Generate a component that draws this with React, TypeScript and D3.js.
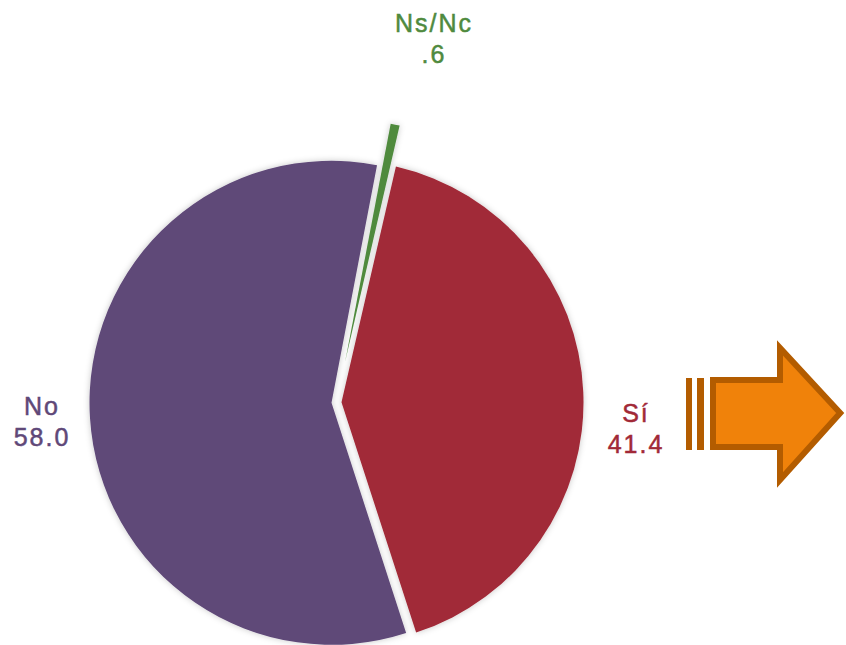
import React from "react";
import * as d3 from "d3";

const categories = ["Sí", "No", "Ns/Nc"];
const values = [41.4, 58.0, 0.6];
const valueLabels = ["41.4", "58.0", ".6"];
const colors = ["#A12937", "#5F4878", "#4F8A3E"];

const W = 846;
const H = 645;
const cx = 336.5;
const cy = 402.5;
const R = 242;
const explode = [5, 5, 42];
const labelPos: [number, number][] = [
  [635, 422],
  [41, 415],
  [433, 32],
];

export default function App() {
  const pie = d3
    .pie<number>()
    .sort(null)
    .startAngle((13 * Math.PI) / 180)
    .endAngle((13 * Math.PI) / 180 + 2 * Math.PI)
    .value((d) => d);
  const arcs = pie(values);
  const arc = d3.arc<d3.PieArcDatum<number>>().innerRadius(0).outerRadius(R);

  const sw = 6;
  const h = sw / 2;
  const arrowPts: [number, number][] = [
    [710 + h, 377 + h],
    [777 + h, 377 + h],
    [777 + h, 345 + h],
    [845 - h * 1.6, 413],
    [777 + h, 483 - h],
    [777 + h, 450 - h],
    [710 + h, 450 - h],
  ];

  return (
    <svg width={W} height={H} style={{ display: "block", position: "absolute", left: 0, top: 0 }}>
      <defs>
        <filter id="sh" x="-20%" y="-20%" width="140%" height="140%">
          <feDropShadow dx="0" dy="0" stdDeviation="3" floodColor="#000" floodOpacity="0.22" />
        </filter>
      </defs>
      <rect width={W} height={H} fill="#fff" />
      <g filter="url(#sh)">
        {arcs.map((a, i) => {
          const mid = (a.startAngle + a.endAngle) / 2;
          const dx = Math.sin(mid) * explode[i];
          const dy = -Math.cos(mid) * explode[i];
          return (
            <path
              key={i}
              d={arc(a) || ""}
              transform={`translate(${cx + dx},${cy + dy})`}
              fill={colors[i]}
            />
          );
        })}
      </g>
      {categories.map((c, i) => (
        <text
          key={c}
          x={labelPos[i][0]}
          y={labelPos[i][1]}
          fill={colors[i]}
          stroke={colors[i]}
          strokeWidth={0.5}
          textAnchor="middle"
          fontFamily="'Liberation Sans', Arial, sans-serif"
          fontSize={25}
          letterSpacing={2}
        >
          <tspan x={labelPos[i][0] + 1} dy={0}>{c}</tspan>
          <tspan x={labelPos[i][0] + 1} dy={31}>{valueLabels[i]}</tspan>
        </text>
      ))}
      <rect x={686} y={378} width={6} height={72} fill="#B35C00" />
      <rect x={697} y={378} width={7} height={72} fill="#B35C00" />
      <path
        d={"M" + arrowPts.map((p) => p.join(",")).join("L") + "Z"}
        fill="#F0820A"
        stroke="#B35C00"
        strokeWidth={sw}
        strokeLinejoin="miter"
      />
    </svg>
  );
}
